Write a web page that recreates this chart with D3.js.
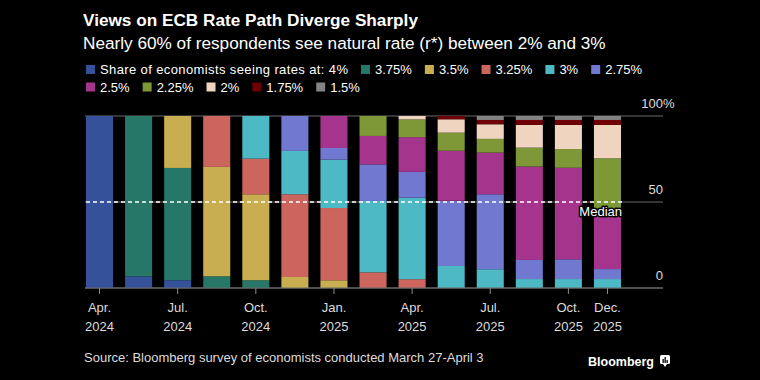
<!DOCTYPE html>
<html>
<head>
<meta charset="utf-8">
<script src="https://cdn.jsdelivr.net/npm/d3@7"></script>
<style>
  html, body { margin: 0; padding: 0; background: #000; }
  svg { display: block; }
  text { font-family: "Liberation Sans", Arial, Helvetica, sans-serif; }
</style>
</head>
<body>
<svg id="chart" width="760" height="380"></svg>
<script>
// ---------- DATA ----------
const meetings = ["Apr. 2024","Jun. 2024","Jul. 2024","Sep. 2024","Oct. 2024","Dec. 2024","Jan. 2025",
                  "Mar. 2025","Apr. 2025","Jun. 2025","Jul. 2025","Sep. 2025","Oct. 2025","Dec. 2025"];
const tickMeetings = ["Apr. 2024","Jul. 2024","Oct. 2024","Jan. 2025","Apr. 2025","Jul. 2025","Oct. 2025","Dec. 2025"];
const rateKeys = ["4%","3.75%","3.5%","3.25%","3%","2.75%","2.5%","2.25%","2%","1.75%","1.5%"];
const r400 = [100, 6.8, 4.5, 0, 0, 0, 0, 0, 0, 0, 0, 0, 0, 0];
const r375 = [0, 93.2, 65.3, 6.8, 4.5, 0, 0, 0, 0, 0, 0, 0, 0, 0];
const r350 = [0, 0, 30.2, 63.6, 50.0, 6.4, 4.5, 0, 0, 0, 0, 0, 0, 0];
const r325 = [0, 0, 0, 29.6, 20.7, 48.1, 42.0, 9.1, 5.1, 0, 0, 0, 0, 0];
const r300 = [0, 0, 0, 0, 24.8, 25.2, 28.1, 41.5, 47.4, 12.8, 10.9, 5.2, 5.2, 5.2];
const r275 = [0, 0, 0, 0, 0, 20.3, 6.8, 21.3, 15.0, 37.9, 43.6, 11.1, 11.5, 5.8];
const r250 = [0, 0, 0, 0, 0, 0, 18.6, 16.5, 20.2, 29.1, 24.2, 54.3, 53.2, 34.3];
const r225 = [0, 0, 0, 0, 0, 0, 0, 11.6, 10.3, 10.5, 8.0, 11.0, 10.9, 30.1];
const r200 = [0, 0, 0, 0, 0, 0, 0, 0, 2.0, 7.8, 8.5, 13.2, 14.0, 19.4];
const r175 = [0, 0, 0, 0, 0, 0, 0, 0, 0, 1.9, 2.5, 2.9, 2.9, 2.9];
const r150 = [0, 0, 0, 0, 0, 0, 0, 0, 0, 0, 2.3, 2.3, 2.3, 2.3];
const seriesValues = [r400, r375, r350, r325, r300, r275, r250, r225, r200, r175, r150];
const yTicks = [0, 50, 100];
const medianValue = 50;
const colors = ["#34519a","#267767","#c8ae50","#cc655d","#4db9c5","#7078d0","#a5348c","#7e9737","#efd4c0","#6e0006","#838383"];

// ---------- BUILD TABLE ----------
const table = meetings.map((m, i) => {
  const row = { meeting: m };
  rateKeys.forEach((k, j) => row[k] = seriesValues[j][i]);
  return row;
});

const svg = d3.select("#chart");
const W = 760, H = 380;
svg.append("rect").attr("width", W).attr("height", H).attr("fill", "#000");

const plotLeft = 86, plotRight = 621, gridRight = 663;
const yTop = 116, yBottom = 288;

const x = d3.scaleBand().domain(meetings).range([plotLeft, plotRight]).paddingInner(0.3077).paddingOuter(0);
const y = d3.scaleLinear().domain([0, 100]).range([yBottom, yTop]);
const color = d3.scaleOrdinal().domain(rateKeys).range(colors);

// Title & subtitle
svg.append("text").attr("x", 83).attr("y", 26).attr("fill", "#fff")
  .attr("font-size", 17.2).attr("font-weight", "bold").text("Views on ECB Rate Path Diverge Sharply");
svg.append("text").attr("x", 83).attr("y", 48.5).attr("fill", "#fff")
  .attr("font-size", 17.2).text("Nearly 60% of respondents see natural rate (r*) between 2% and 3%");

// Legend
const legendRows = [
  [{ label: "Share of economists seeing rates at: 4%", key: "4%", len: 248 }].concat(
    rateKeys.slice(1, 6).map(k => ({ label: k, key: k }))),
  rateKeys.slice(6).map(k => ({ label: k, key: k }))
];
const legendY = [69.5, 87];
legendRows.forEach((row, ri) => {
  let cx = 86;
  row.forEach(item => {
    const g = svg.append("g");
    g.append("rect").attr("x", cx).attr("y", legendY[ri] - 4.5).attr("width", 9).attr("height", 9)
      .attr("fill", color(item.key));
    const t = g.append("text").attr("x", cx + 14).attr("y", legendY[ri] + 4.5)
      .attr("fill", "#fff").attr("font-size", 13).text(item.label);
    if (item.len) t.attr("textLength", item.len).attr("lengthAdjust", "spacing");
    const w = item.len || t.node().getComputedTextLength();
    cx += 14 + w + 13;
  });
});

// Gridlines
const grid = svg.append("g");
yTicks.forEach(v => {
  grid.append("line").attr("x1", 85).attr("x2", gridRight).attr("y1", y(v)).attr("y2", y(v))
    .attr("stroke", "#6b6b6b").attr("stroke-width", 1.2);
});

// Y labels (right side)
yTicks.forEach(v => {
  svg.append("text").attr("x", gridRight).attr("y", y(v) - 8).attr("text-anchor", "end")
    .attr("fill", "#ddd").attr("font-size", 13).text(v);
  if (v === 100) {
    svg.append("text").attr("x", gridRight).attr("y", y(v) - 8).attr("text-anchor", "start")
      .attr("fill", "#ddd").attr("font-size", 13).text("%");
  }
});

// Bars
const stack = d3.stack().keys(rateKeys);
const layers = stack(table);
svg.append("g").selectAll("g").data(layers).join("g")
  .attr("fill", d => color(d.key))
  .selectAll("rect").data(d => d).join("rect")
  .attr("x", d => x(d.data.meeting))
  .attr("width", x.bandwidth())
  .attr("y", d => y(d[1]))
  .attr("height", d => Math.max(0, y(d[0]) - y(d[1])));

// Baseline redraw
svg.append("line").attr("x1", 85).attr("x2", gridRight).attr("y1", y(0)).attr("y2", y(0))
  .attr("stroke", "#6b6b6b").attr("stroke-width", 1.2);

// Median dashed line
svg.append("line").attr("x1", plotLeft).attr("x2", plotRight + 1)
  .attr("y1", y(medianValue)).attr("y2", y(medianValue))
  .attr("stroke", "#fff").attr("stroke-width", 1.6).attr("stroke-dasharray", "4,3");
svg.append("text").attr("x", plotRight + 1).attr("y", y(medianValue) + 14).attr("text-anchor", "end")
  .attr("fill", "#fff").attr("font-size", 13)
  .attr("stroke", "#000").attr("stroke-width", 3).attr("paint-order", "stroke")
  .attr("stroke-linejoin", "round").text("Median");

// X axis ticks & labels
const xAxis = svg.append("g");
tickMeetings.forEach(m => {
  const cx = x(m) + x.bandwidth() / 2;
  xAxis.append("line").attr("x1", cx).attr("x2", cx).attr("y1", y(0)).attr("y2", y(0) + 6)
    .attr("stroke", "#8a8a8a").attr("stroke-width", 1);
  const parts = m.split(" ");
  const t = xAxis.append("text").attr("x", cx).attr("text-anchor", "middle")
    .attr("fill", "#ddd").attr("font-size", 13);
  t.append("tspan").attr("x", cx).attr("y", 312).text(parts[0]);
  t.append("tspan").attr("x", cx).attr("y", 331).text(parts[1]);
});

// Source
svg.append("text").attr("x", 84).attr("y", 362).attr("fill", "#ddd").attr("font-size", 13)
  .text("Source: Bloomberg survey of economists conducted March 27-April 3");

// Bloomberg logo
svg.append("text").attr("x", 654).attr("y", 365.5).attr("text-anchor", "end")
  .attr("fill", "#fff").attr("font-size", 12.5).attr("font-weight", "bold").text("Bloomberg");
const logo = svg.append("g").attr("transform", "translate(660,355)");
logo.append("rect").attr("x", 0).attr("y", 0).attr("width", 10).attr("height", 9).attr("rx", 1.5).attr("fill", "#fff");
logo.append("path").attr("d", "M3,9 L5,12 L7,9 Z").attr("fill", "#fff");
logo.append("rect").attr("x", 2.5).attr("y", 4).attr("width", 1.3).attr("height", 4).attr("fill", "#000");
logo.append("rect").attr("x", 4.5).attr("y", 2).attr("width", 1.3).attr("height", 6).attr("fill", "#000");
logo.append("rect").attr("x", 6.5).attr("y", 5).attr("width", 1.3).attr("height", 3).attr("fill", "#000");
</script>
</body>
</html>
